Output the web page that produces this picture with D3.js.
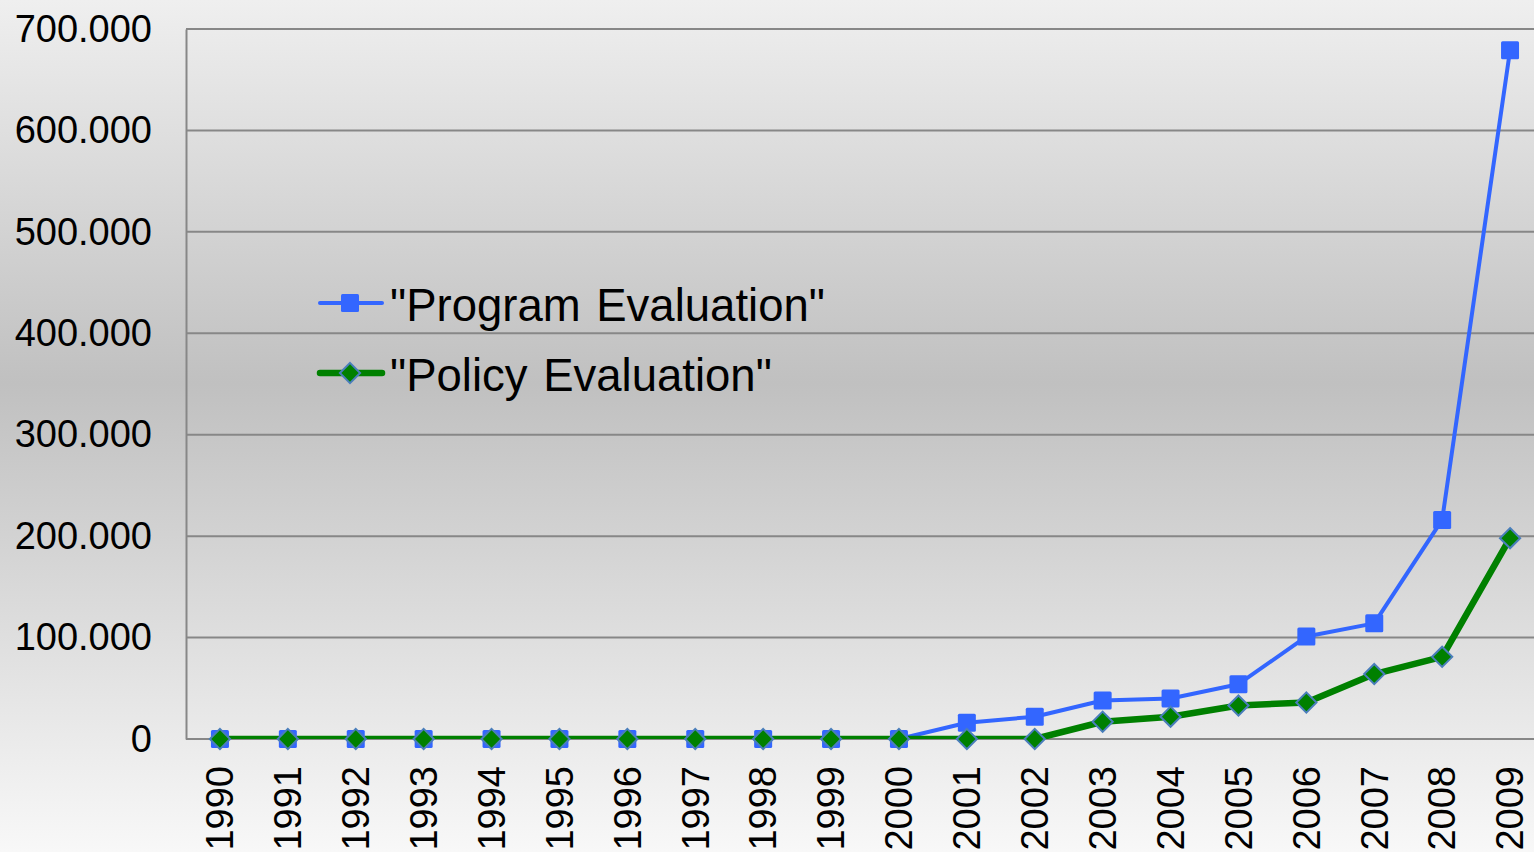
<!DOCTYPE html>
<html lang="en">
    <head>
        <meta charset="utf-8">
        <title>Program vs Policy Evaluation</title>
        <script type="text/javascript" src="https://d3js.org/d3.v7.min.js"></script>
        <style type="text/css">
            body { margin: 0; overflow: hidden; }
        </style>
    </head>
    <body>
        <script type="text/javascript">

            //Width and height
            var w = 1534;
            var h = 852;

            //Data
            var years = ["1990","1991","1992","1993","1994","1995","1996","1997","1998","1999",
                         "2000","2001","2002","2003","2004","2005","2006","2007","2008","2009"];
            var program = [0,0,0,0,0,0,0,0,0,0, 0,16,22,38,40,54,101,114,216,679];
            var policy  = [0,0,0,0,0,0,0,0,0,0, 0,0,0,17,22,33,36,64,81,198];
            var yTicks = [0,100,200,300,400,500,600,700];
            var yTickLabels = ["0","100.000","200.000","300.000","400.000","500.000","600.000","700.000"];
            var seriesNames = ["\"Program Evaluation\"", "\"Policy Evaluation\""];

            // "top" is taken by window.top, so plotTop it is
            var plotLeft = 186, plotTop = 29, plotBottom = 739;
            var step = 67.9;

            var svg = d3.select("body")
                        .append("svg")
                        .attr("width", w)
                        .attr("height", h);

            //background gradient
            var defs = svg.append("defs");
            var grad = defs.append("linearGradient")
                .attr("id", "bg")
                .attr("x1", 0).attr("y1", 0).attr("x2", 0).attr("y2", 1);
            grad.append("stop").attr("offset", "0%").attr("stop-color", "#efefef");
            grad.append("stop").attr("offset", "45%").attr("stop-color", "#c0c0c0");
            grad.append("stop").attr("offset", "100%").attr("stop-color", "#f8f8f8");

            defs.append("clipPath").attr("id", "plotclip")
                .append("rect")
                .attr("x", plotLeft).attr("y", plotTop - 5)
                .attr("width", w).attr("height", plotBottom - plotTop + 5);

            svg.append("rect")
                .attr("width", w).attr("height", h)
                .attr("fill", "url(#bg)");

            var x = d3.scaleBand()
                .domain(years)
                .range([plotLeft, plotLeft + step * years.length]);

            var y = d3.scaleLinear()
                .domain([0, 700])
                .range([plotBottom, plotTop]);

            //gridlines
            svg.append("g")
                .selectAll("line")
                .data(yTicks)
                .enter()
                .append("line")
                .attr("x1", plotLeft)
                .attr("x2", w)
                .attr("y1", function(d) { return y(d); })
                .attr("y2", function(d) { return y(d); })
                .attr("stroke", "#878787")
                .attr("stroke-width", 2);

            //y axis
            var yAxis = d3.axisLeft(y)
                .tickValues(yTicks)
                .tickSize(0)
                .tickPadding(34)
                .tickFormat(function(d, i) { return yTickLabels[i]; });

            var yg = svg.append("g")
                .attr("transform", "translate(" + plotLeft + ",0)")
                .call(yAxis);
            yg.select(".domain").attr("stroke", "#878787").attr("stroke-width", 2);
            yg.selectAll("text")
                .attr("font-family", "Liberation Sans, Arial, sans-serif")
                .attr("font-size", 38)
                .attr("fill", "#000");

            //x axis labels
            var xAxis = d3.axisBottom(x).tickSize(0).tickPadding(0);
            var xg = svg.append("g")
                .attr("transform", "translate(0," + plotBottom + ")")
                .call(xAxis);
            xg.select(".domain").remove();
            xg.selectAll("text")
                .attr("font-family", "Liberation Sans, Arial, sans-serif")
                .attr("font-size", 38)
                .attr("fill", "#000")
                .attr("text-anchor", "end")
                .attr("transform", "rotate(-90)")
                .attr("x", -27)
                .attr("y", 0)
                .attr("dy", "0.35em");

            var cx = function(d, i) { return x(years[i]) + x.bandwidth() / 2; };

            var line = d3.line()
                .x(cx)
                .y(function(d) { return y(d); });

            var plot = svg.append("g").attr("clip-path", "url(#plotclip)");

            plot.append("path")
                .datum(program)
                .attr("d", line)
                .attr("fill", "none")
                .attr("stroke", "#3366ff")
                .attr("stroke-width", 4)
                .attr("stroke-linejoin", "round");

            plot.append("path")
                .datum(policy)
                .attr("d", line)
                .attr("fill", "none")
                .attr("stroke", "#008000")
                .attr("stroke-width", 6.5)
                .attr("stroke-linejoin", "round");

            //markers
            svg.append("g")
                .selectAll("rect")
                .data(program)
                .enter()
                .append("rect")
                .attr("x", function(d, i) { return cx(d, i) - 9; })
                .attr("y", function(d) { return y(d) - 9; })
                .attr("width", 18)
                .attr("height", 18)
                .attr("rx", 1.5)
                .attr("fill", "#3366ff");

            var diamond = d3.symbol().type(d3.symbolDiamond2).size(260);
            svg.append("g")
                .selectAll("path")
                .data(policy)
                .enter()
                .append("path")
                .attr("d", diamond)
                .attr("transform", function(d, i) {
                    return "translate(" + cx(d, i) + "," + y(d) + ")";
                })
                .attr("fill", "#008000")
                .attr("stroke", "#4a7ebb")
                .attr("stroke-width", 2);

            //legend
            var legend = svg.append("g");
            var rowY = [303, 373];

            legend.append("line")
                .attr("x1", 320).attr("x2", 382)
                .attr("y1", rowY[0]).attr("y2", rowY[0])
                .attr("stroke", "#3366ff").attr("stroke-width", 4)
                .attr("stroke-linecap", "round");
            legend.append("rect")
                .attr("x", 341).attr("y", rowY[0] - 9)
                .attr("width", 18).attr("height", 18)
                .attr("rx", 1.5)
                .attr("fill", "#3366ff");

            legend.append("line")
                .attr("x1", 320).attr("x2", 382)
                .attr("y1", rowY[1]).attr("y2", rowY[1])
                .attr("stroke", "#008000").attr("stroke-width", 6.5)
                .attr("stroke-linecap", "round");
            legend.append("path")
                .attr("d", diamond)
                .attr("transform", "translate(350," + rowY[1] + ")")
                .attr("fill", "#008000")
                .attr("stroke", "#4a7ebb")
                .attr("stroke-width", 2);

            legend.selectAll("text")
                .data(seriesNames)
                .enter()
                .append("text")
                .text(function(d) { return d; })
                .attr("x", 390)
                .attr("y", function(d, i) { return rowY[i] + 18; })
                .attr("font-family", "Liberation Sans, Arial, sans-serif")
                .attr("font-size", 45.5)
                .attr("word-spacing", 3)
                .attr("fill", "#000");
        </script>
    </body>
</html>
